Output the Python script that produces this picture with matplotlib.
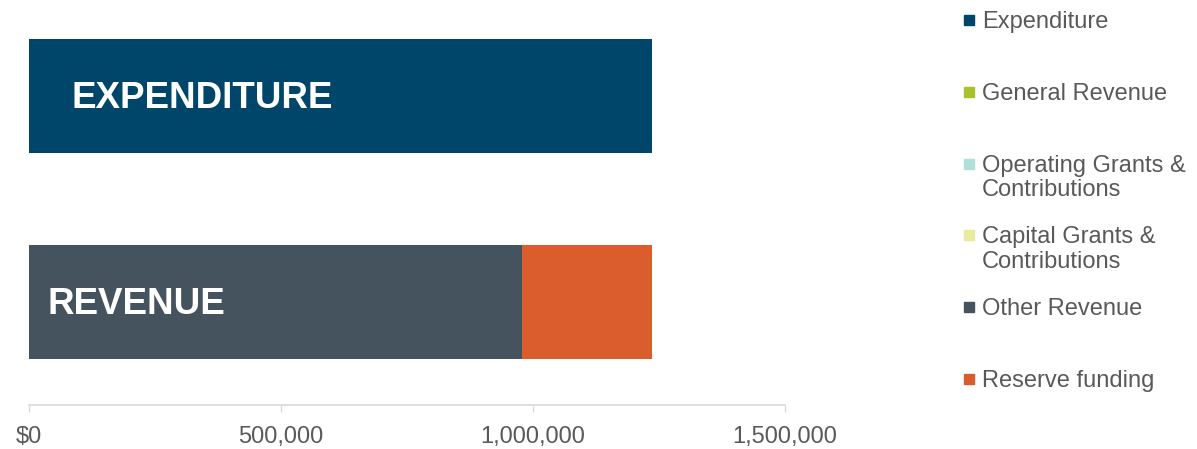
import matplotlib.pyplot as plt
from matplotlib.patches import Rectangle
from matplotlib.ticker import FuncFormatter

plt.rcParams['font.family'] = ['Liberation Sans', 'DejaVu Sans']

# data
bars = ['REVENUE', 'EXPENDITURE']
series = ['Expenditure', 'General Revenue', 'Operating Grants &\nContributions',
          'Capital Grants &\nContributions', 'Other Revenue', 'Reserve funding']
colors = ['#00466a', '#a9c22a', '#b1dfda', '#e8ec9c', '#44535e', '#db5c2c']
expenditure = [0, 1236000]
general_revenue = [0, 0]
operating_grants = [0, 0]
capital_grants = [0, 0]
other_revenue = [978000, 0]
reserve_funding = [258000, 0]
values = [expenditure, general_revenue, operating_grants, capital_grants,
          other_revenue, reserve_funding]
ticks = [0, 500000, 1000000, 1500000]

fig = plt.figure(figsize=(11.97, 4.49), dpi=100)
ax = fig.add_axes([29 / 1197, 44 / 449, 756 / 1197, 405 / 449])

ypos = [0, 1]
left = [0, 0]
for vals, col in zip(values, colors):
    ax.barh(ypos, vals, left=left, height=0.553, color=col)
    left = [l + v for l, v in zip(left, vals)]

ax.set_xlim(0, 1500000)
ax.set_ylim(-0.5, 1 + 96 / 206)

# labels inside the bars
ax.text(85000, 1 - 0.012, bars[1], color='white', fontsize=26.5, fontweight='bold', va='center')
ax.text(36000, 0 - 0.012, bars[0], color='white', fontsize=26.5, fontweight='bold', va='center')

ax.set_xticks(ticks)
ax.xaxis.set_major_formatter(FuncFormatter(lambda v, p: '$0' if v == 0 else f'{v:,.0f}'))
ax.tick_params(axis='x', colors='#d9d9d9', labelcolor='#595959', labelsize=17,
               length=5, width=1, pad=10)
ax.set_yticks([])
for s in ['top', 'right', 'left']:
    ax.spines[s].set_visible(False)
ax.spines['bottom'].set_color('#d9d9d9')
ax.spines['bottom'].set_linewidth(1.2)

# legend, one square marker per series
W, H = 1197, 449
for i, (name, col) in enumerate(zip(series, colors)):
    y = 20 + i * 71.8
    fig.add_artist(Rectangle((964 / W, 1 - (y + 5) / H), 10 / W, 10 / H,
                             color=col, transform=fig.transFigure))
    fig.text(982 / W, 1 - (y - 9) / H, name, color='#595959', fontsize=17,
             va='top', ha='left', linespacing=1.15)

fig.savefig('out.png', dpi=100)
